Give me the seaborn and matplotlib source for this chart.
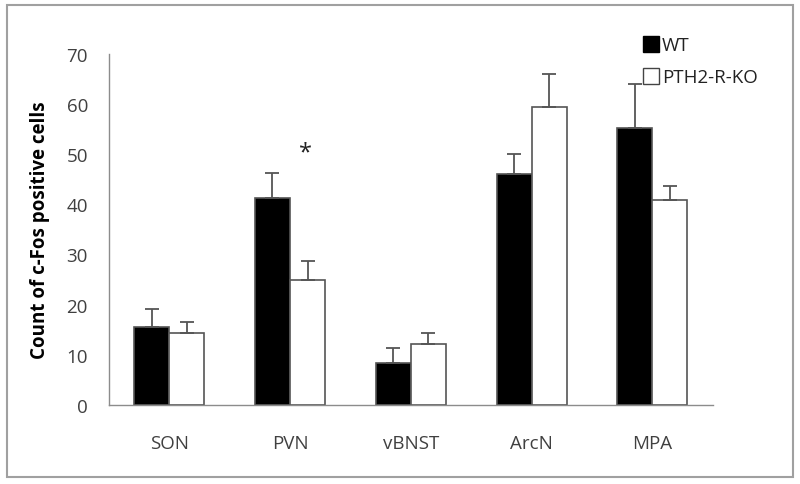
import numpy as np
import pandas as pd
import matplotlib
matplotlib.use("Agg")
import matplotlib.pyplot as plt
import seaborn as sns
from matplotlib.patches import Rectangle

# -----------------------------
# DATA
# -----------------------------
regions = ["SON", "PVN", "vBNST", "ArcN", "MPA"]
groups = ["WT", "PTH2-R-KO"]
wt_mean = [15.6, 41.3, 8.4, 46.0, 55.3]
wt_err = [3.6, 4.9, 3.0, 4.0, 8.6]
ko_mean = [14.4, 25.0, 12.2, 59.3, 40.9]
ko_err = [2.2, 3.7, 2.2, 6.6, 2.7]
yticks = [0, 10, 20, 30, 40, 50, 60, 70]

df = pd.DataFrame({
    "region": regions * 2,
    "group": [groups[0]] * 5 + [groups[1]] * 5,
    "count": wt_mean + ko_mean,
    "err": wt_err + ko_err,
})

sns.set_theme(style="white")
plt.rcParams["font.family"] = ["Open Sans", "DejaVu Sans"]
axis_gray = "#8c8c8c"
text_col = "#404040"

fig = plt.figure(figsize=(8, 4.85), dpi=100)
ax = fig.add_axes([0.136, 0.163, 0.755, 0.724])

sns.barplot(
    data=df, x="region", y="count", hue="group",
    order=regions, hue_order=groups,
    palette={"WT": "black", "PTH2-R-KO": "white"},
    width=0.58, errorbar=None, edgecolor="#555555", linewidth=1.2,
    legend=False, ax=ax,
)

# upward-only error bars from the drawn bars
for container, errs in zip(ax.containers, [wt_err, ko_err]):
    xs = [b.get_x() + b.get_width() / 2 for b in container]
    hs = [b.get_height() for b in container]
    ax.errorbar(xs, hs, yerr=[np.zeros(len(errs)), errs], fmt="none",
                ecolor="#555555", elinewidth=1.3, capsize=5, capthick=1.3)

# significance star above PVN KO bar
pvn_ko = ax.containers[1][1]
ax.text(pvn_ko.get_x() + pvn_ko.get_width() / 2 - 0.02, 50.3, "*",
        ha="center", va="center", fontsize=17, color="#222222")

ax.set_ylim(0, 70)
ax.set_xlim(-0.5, 4.5)
ax.set_yticks(yticks)
ax.set_yticklabels([str(t) for t in yticks], fontsize=13.5, color=text_col)
ax.set_xticks(np.arange(-0.5, 5, 1))
ax.set_xticklabels([])
ax.set_xticks(np.arange(5), minor=True)
ax.set_xticklabels(regions, minor=True, fontsize=13.5, color=text_col)
ax.tick_params(axis="x", which="major", direction="out", length=7,
               color=axis_gray, width=1)
ax.tick_params(axis="x", which="minor", length=0, pad=21)
ax.tick_params(axis="y", direction="out", length=5, color=axis_gray,
               width=1, pad=10)

ax.set_xlabel("")
ax.set_ylabel("Count of c-Fos positive cells", fontsize=13.5,
              fontweight="bold", color="black", labelpad=12)
for side in ["top", "right"]:
    ax.spines[side].set_visible(False)
for side in ["left", "bottom"]:
    ax.spines[side].set_color(axis_gray)
    ax.spines[side].set_linewidth(1)

# legend
handles = [
    plt.Line2D([], [], marker="s", linestyle="none", markersize=11,
               markerfacecolor="black", markeredgecolor="black"),
    plt.Line2D([], [], marker="s", linestyle="none", markersize=11,
               markerfacecolor="white", markeredgecolor="#444444"),
]
fig.legend(handles, groups, loc="upper left", bbox_to_anchor=(0.782, 0.958),
           frameon=False, fontsize=13.5, handletextpad=0.15,
           labelspacing=0.75, handlelength=0.9, labelcolor="#222222")

# outer frame
fig.patches.append(Rectangle((0.009, 0.014), 0.982, 0.974, transform=fig.transFigure,
                             fill=False, edgecolor="#a0a0a0", linewidth=1.5))

fig.savefig("out.png", dpi=100, facecolor="white")
